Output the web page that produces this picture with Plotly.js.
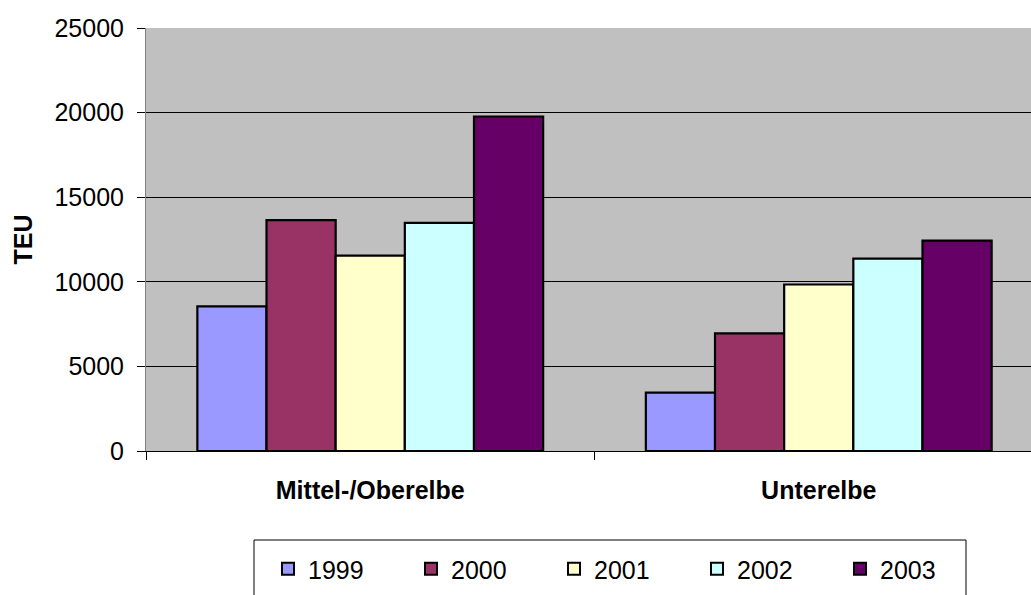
<!DOCTYPE html>
<html>
<head>
<meta charset="utf-8">
<script src="https://cdn.plot.ly/plotly-3.0.1.min.js"></script>
<style>html,body{margin:0;padding:0;background:#fff;overflow:hidden;}#chart{width:1043px;height:595px;}</style>
</head>
<body>
<div id="chart"></div>
<script>
const categories = ["Mittel-/Oberelbe", "Unterelbe"];
const years = ["1999", "2000", "2001", "2002", "2003"];
const v1999 = [8550, 3450];
const v2000 = [13650, 6950];
const v2001 = [11550, 9840];
const v2002 = [13480, 11370];
const v2003 = [19770, 12430];
const seriesValues = [v1999, v2000, v2001, v2002, v2003];
const colors = ["#9999FF", "#993366", "#FFFFCC", "#CCFFFF", "#660066"];
const yTicks = [0, 5000, 10000, 15000, 20000, 25000];

const traces = years.map((y, i) => ({
  type: "bar",
  name: y,
  x: categories,
  y: seriesValues[i],
  marker: {color: colors[i], line: {color: "#000", width: 2.2}},
  hoverinfo: "none"
}));

// plot area geometry (pixels) used to place the legend frame
const W = 1043, H = 595, ML = 146, MR = 0, MT = 28, MB = 144;
const PW = W - ML - MR, PH = H - MT - MB;
const px = x => (x - ML) / PW;
const py = y => (H - MB - y) / PH;

const layout = {
  width: W, height: H,
  margin: {l: ML, r: MR, t: MT, b: MB, autoexpand: false},
  paper_bgcolor: "#fff",
  plot_bgcolor: "#c0c0c0",
  barmode: "group",
  bargap: 0.229,
  bargroupgap: 0,
  font: {family: "Liberation Sans, Arial, sans-serif", color: "#000", size: 25},
  xaxis: {
    type: "category",
    tickson: "boundaries",
    ticks: "outside", ticklen: 8, tickcolor: "#000", tickwidth: 1,
    showline: true, linecolor: "#000", linewidth: 1,
    tickfont: {size: 25},
    ticktext: categories.map(c => "<b>" + c + "</b>"),
    tickvals: categories,
    ticklabelstandoff: 17,
    showgrid: false
  },
  yaxis: {
    range: [0, 25000],
    tickvals: yTicks,
    ticktext: yTicks.map(String),
    ticks: "outside", ticklen: 8, tickcolor: "#000", tickwidth: 1,
    showline: true, linecolor: "#808080", linewidth: 1,
    showgrid: true, gridcolor: "#000", gridwidth: 1,
    zeroline: false,
    tickfont: {size: 25},
    ticklabelstandoff: 8,
    title: {text: "<b>TEU</b>", font: {size: 25}, standoff: 14}
  },
  shapes: [{
    type: "rect", xref: "paper", yref: "paper",
    x0: px(254), x1: px(966), y0: py(540), y1: py(610),
    line: {color: "#000", width: 1}, fillcolor: "#fff", layer: "below"
  }],
  showlegend: true,
  legend: {
    orientation: "h",
    x: px(268), xanchor: "left",
    y: py(569), yanchor: "middle",
    bgcolor: "rgba(0,0,0,0)", borderwidth: 0,
    font: {size: 25},
    entrywidth: 98, entrywidthmode: "pixels",
    traceorder: "normal",
    itemsizing: "constant"
  }
};

Plotly.newPlot("chart", traces, layout, {displayModeBar: false, staticPlot: true});
</script>
</body>
</html>
